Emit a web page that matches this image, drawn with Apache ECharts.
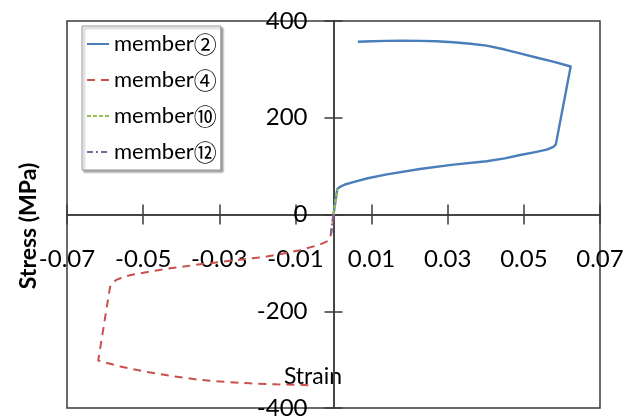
<!DOCTYPE html>
<html>
<head>
<meta charset="utf-8">
<script src="https://cdn.jsdelivr.net/npm/echarts@6/dist/echarts.min.js"></script>
<style>
  html, body { margin: 0; padding: 0; background: #fff; }
  #chart { width: 637px; height: 420px; }
</style>
</head>
<body>
<div id="chart"></div>
<script>
// Stress–strain loops for four truss members
const strain2  = [0, 0.001, 0.0017, 0.003, 0.0052, 0.009, 0.014, 0.0227, 0.0315, 0.0402, 0.045, 0.049, 0.053, 0.056, 0.0578, 0.0584,
                  0.0623, 0.0577, 0.0535, 0.049, 0.045, 0.0402, 0.036, 0.0315, 0.027, 0.0227, 0.018, 0.014, 0.01, 0.0064];
const stress2  = [0, 53, 57, 62, 67, 75, 83, 94, 103, 110, 116, 123, 129, 134, 140, 145,
                  306, 316, 324, 333, 341, 349, 353, 356, 358, 359, 359.5, 359, 358, 357];

const strain4  = [0, -0.0007, -0.0012, -0.0035, -0.0088, -0.0175, -0.0263, -0.035, -0.0438, -0.0526, -0.0555, -0.057, -0.0582, -0.0587,
                  -0.0618, -0.056, -0.05, -0.0425, -0.035, -0.0285, -0.0219, -0.015, -0.0088, -0.0066];
const stress4  = [0, -42, -54, -62, -74, -87, -95, -103, -112, -124, -130, -135, -142, -150,
                  -302, -314, -324, -334, -342, -346, -349, -351, -352, -353];

const strain10 = [0, 0.001];
const stress10 = [0, 53];

const strain12 = [0, -0.0007];
const stress12 = [0, -42];

const seriesNames = ['member②', 'member④', 'member⑩', 'member⑫'];
const xTickRange = [-0.07, 0.07, 0.02];
const yTickRange = [-400, 400, 200];

const FONT = 'Lato, "Noto Sans", sans-serif';
const CJK_FONT = '"Noto Sans CJK JP", "Noto Sans CJK SC", sans-serif';
const AXIS_COLOR = '#3a3a3a';

function pairs(xs, ys) {
  return xs.map((x, i) => [x, ys[i]]);
}

const W = 637, H = 420;
const gridBox = { left: 67, right: 37, top: 21, bottom: 12, containLabel: false, outerBoundsMode: 'none' };
// Both ranges are symmetric, so the zero lines sit at the middle of the plot.
const xShift = (W - gridBox.left - gridBox.right) / 2;
const yShift = (H - gridBox.top - gridBox.bottom) / 2;

const chart = echarts.init(document.getElementById('chart'), null, { renderer: 'canvas' });

const axisLineStyle = { color: AXIS_COLOR, width: 1.5 };

// Two overlapping grids: the second one only contributes the opposite half
// of each tick so that ticks cross the zero axes.
function xAxisDef(gridIndex, position, showLabel) {
  return {
    type: 'value',
    gridIndex: gridIndex,
    position: position,
    offset: -yShift,
    min: xTickRange[0],
    max: xTickRange[1],
    interval: xTickRange[2],
    axisLine: { show: true, onZero: false, lineStyle: axisLineStyle },
    axisTick: { show: true, length: 10, lineStyle: axisLineStyle },
    axisLabel: {
      show: showLabel,
      margin: 33,
      color: '#000',
      fontFamily: FONT,
      fontSize: 24,
      formatter: v => v.toFixed(2)
    },
    splitLine: { show: false }
  };
}

function yAxisDef(gridIndex, position, showLabel) {
  return {
    type: 'value',
    gridIndex: gridIndex,
    position: position,
    offset: -xShift,
    min: yTickRange[0],
    max: yTickRange[1],
    interval: yTickRange[2],
    axisLine: { show: true, onZero: false, lineStyle: axisLineStyle },
    axisTick: { show: true, length: 9, lineStyle: axisLineStyle },
    axisLabel: {
      show: showLabel,
      margin: 26,
      color: '#000',
      fontFamily: FONT,
      fontSize: 24
    },
    splitLine: { show: false }
  };
}

const option = {
  animation: false,
  backgroundColor: '#fff',
  grid: [
    Object.assign({ show: true, borderColor: AXIS_COLOR, borderWidth: 1.5, backgroundColor: 'transparent' }, gridBox),
    Object.assign({ show: false }, gridBox)
  ],
  xAxis: [xAxisDef(0, 'bottom', true), xAxisDef(1, 'top', false)],
  yAxis: [yAxisDef(0, 'left', true), yAxisDef(1, 'right', false)],
  legend: {
    orient: 'vertical',
    left: 82,
    top: 26,
    padding: [6, 4, 6, 4],
    itemGap: 12,
    itemWidth: 22,
    itemHeight: 14,
    backgroundColor: '#fff',
    borderColor: '#9a9a9a',
    borderWidth: 1,
    shadowColor: 'rgba(0,0,0,0.35)',
    shadowBlur: 2,
    shadowOffsetX: 2,
    shadowOffsetY: 2,
    itemStyle: { color: 'rgba(0,0,0,0)', borderColor: 'rgba(0,0,0,0)', borderWidth: 0 },
    // circled member numbers are set in the CJK face, where they are full size
    formatter: name => name.replace(/([\u2460-\u2473])/g, '{c|$1}'),
    textStyle: {
      fontFamily: FONT, fontSize: 22, color: '#000', lineHeight: 24,
      rich: {
        c: { fontFamily: CJK_FONT, fontSize: 23, color: '#000', lineHeight: 24 }
      }
    },
    data: seriesNames
  },
  graphic: [
    {
      type: 'text',
      x: 29, y: 226,
      rotation: Math.PI / 2,
      style: {
        text: 'Stress (MPa)',
        font: 'bold 23px ' + FONT,
        fill: '#000',
        align: 'center',
        verticalAlign: 'middle'
      }
    },
    {
      type: 'text',
      x: 313, y: 377,
      style: {
        text: 'Strain',
        font: '23px ' + FONT,
        fill: '#000',
        align: 'center',
        verticalAlign: 'middle'
      }
    }
  ],
  series: [
    {
      name: seriesNames[0], type: 'line', symbol: 'none', xAxisIndex: 0, yAxisIndex: 0,
      data: pairs(strain2, stress2),
      lineStyle: { color: '#4a7ebb', width: 2.4, type: 'solid', join: 'round' },
      itemStyle: { color: '#4a7ebb' }
    },
    {
      name: seriesNames[1], type: 'line', symbol: 'none', xAxisIndex: 0, yAxisIndex: 0,
      data: pairs(strain4, stress4),
      lineStyle: { color: '#c8504d', width: 2, type: [8, 6] },
      itemStyle: { color: '#c8504d' }
    },
    {
      name: seriesNames[2], type: 'line', symbol: 'none', xAxisIndex: 0, yAxisIndex: 0,
      data: pairs(strain10, stress10),
      lineStyle: { color: '#9bbb59', width: 2.4, type: [4, 2] },
      itemStyle: { color: '#9bbb59' }
    },
    {
      name: seriesNames[3], type: 'line', symbol: 'none', xAxisIndex: 0, yAxisIndex: 0,
      data: pairs(strain12, stress12),
      lineStyle: { color: '#8064a2', width: 2.4, type: [6, 3, 2, 3] },
      itemStyle: { color: '#8064a2' }
    }
  ]
};

chart.setOption(option);
</script>
</body>
</html>
